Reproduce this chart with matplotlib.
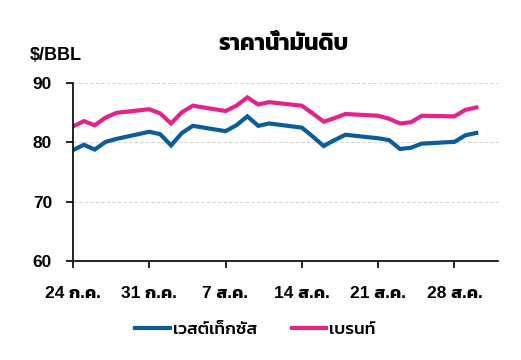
import matplotlib
matplotlib.use("Agg")
import matplotlib.pyplot as plt
import pandas as pd

plt.rcParams['font.family'] = ['Liberation Sans', 'Kanit']

# daily trading-day prices ($/BBL), 24 Jul - 30 Aug
dates = ['2023-07-24', '2023-07-25', '2023-07-26', '2023-07-27', '2023-07-28',
         '2023-07-31', '2023-08-01', '2023-08-02', '2023-08-03', '2023-08-04',
         '2023-08-07', '2023-08-08', '2023-08-09', '2023-08-10', '2023-08-11',
         '2023-08-14', '2023-08-15', '2023-08-16', '2023-08-17', '2023-08-18',
         '2023-08-21', '2023-08-22', '2023-08-23', '2023-08-24', '2023-08-25',
         '2023-08-28', '2023-08-29', '2023-08-30']
wti = [78.7, 79.6, 78.8, 80.1, 80.6,
       81.8, 81.4, 79.5, 81.6, 82.8,
       81.9, 82.9, 84.4, 82.8, 83.2,
       82.5, 81.0, 79.4, 80.4, 81.3,
       80.7, 80.4, 78.9, 79.1, 79.8,
       80.1, 81.2, 81.6]
brent = [82.7, 83.6, 82.9, 84.2, 85.0,
         85.6, 84.9, 83.2, 85.1, 86.2,
         85.3, 86.2, 87.6, 86.4, 86.8,
         86.2, 84.9, 83.5, 84.1, 84.8,
         84.5, 84.0, 83.2, 83.4, 84.5,
         84.4, 85.5, 85.9]
tick_dates = ['2023-07-24', '2023-07-31', '2023-08-07', '2023-08-14', '2023-08-21', '2023-08-28']
tick_labels = ['24 ก.ค.', '31 ก.ค.', '7 ส.ค.', '14 ส.ค.', '21 ส.ค.', '28 ส.ค.']

x = pd.to_datetime(dates)

fig = plt.figure(figsize=(5.21, 3.6), dpi=100)
ax = fig.add_axes([0.140, 0.275, 0.816, 0.494])

ax.plot(x, wti, color='#0b5c97', lw=3, label='เวสต์เท็กซัส', solid_joinstyle='miter')
ax.plot(x, brent, color='#e3238b', lw=3, label='เบรนท์', solid_joinstyle='miter')

ax.set_ylim(60, 90)
ax.set_yticks([60, 70, 80, 90])
ax.set_xlim(pd.Timestamp('2023-07-24'), pd.Timestamp('2023-09-01'))
ax.set_xticks(pd.to_datetime(tick_dates))
ax.set_xticklabels(tick_labels)

for s in ['top', 'right']:
    ax.spines[s].set_visible(False)
ax.spines['left'].set_linewidth(1.2)
ax.spines['bottom'].set_linewidth(1.2)
ax.tick_params(axis='both', length=5, width=1.2, labelsize=12.5)
ax.tick_params(axis='y', pad=10)
ax.tick_params(axis='x', pad=13)
for lab in ax.get_xticklabels() + ax.get_yticklabels():
    lab.set_fontweight('bold')

ax.yaxis.grid(True, linestyle=(0, (3, 2)), color='#d4d4d4', lw=0.8)
ax.set_axisbelow(True)

fig.text(0.058, 0.847, '$/BBL', fontsize=13, fontweight='bold', va='center')
fig.text(0.545, 0.88, 'ราคาน้ำมันดิบ', fontsize=16.5, fontweight='bold', ha='center', va='center')

fig.legend(loc='center', bbox_to_anchor=(0.49, 0.085), ncol=2, frameon=False,
           prop={'size': 12.5, 'weight': 'medium'},
           handlelength=2.0, handletextpad=0.15, columnspacing=2.0)

fig.savefig('out.png')
